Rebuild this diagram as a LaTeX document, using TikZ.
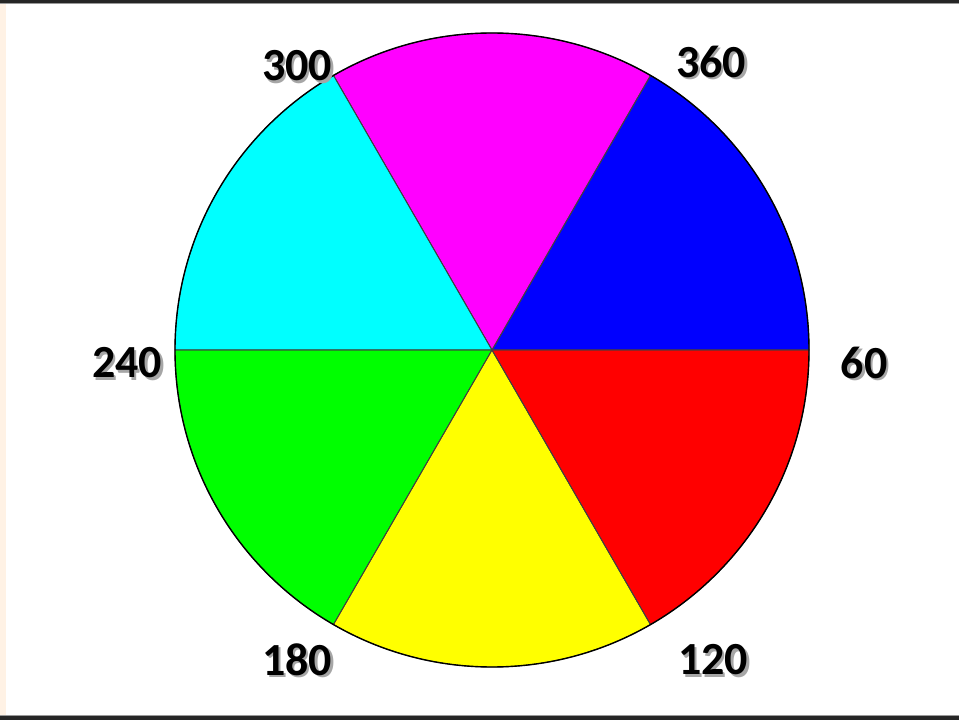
\documentclass[tikz,border=0pt]{standalone}
\usepackage{fontspec}
\setmainfont{Carlito}
\newcommand{\shadowtext}[1]{\makebox[0pt][l]{\hspace{2.5pt}\raisebox{-2.5pt}{\textcolor{black!35}{#1}}}#1}
\begin{document}
\begin{tikzpicture}[x=1pt,y=1pt,
  lab/.style={font=\bfseries\fontsize{46}{46}\selectfont, text=black, inner sep=0pt},
  sector/.style={draw=black!75, line width=0.8pt, line join=round}]
\useasboundingbox (0,0) rectangle (959,721);
\fill[white] (0,0) rectangle (959,721);
\fill[orange!10] (0,3) rectangle (6,718);
% top and bottom bars
\fill[black!85] (0,718) rectangle (959,721);
\fill[black!40] (0,716.5) rectangle (959,718);
\fill[black!85] (0,1) rectangle (959,5);
\fill[black!40] (0,5) rectangle (959,6.5);
\coordinate (c) at (492,371);
\def\R{317}
\fill[sector, fill={rgb,255:red,0;green,0;blue,255}] (c) -- ++(0:\R) arc (0:60:\R) -- cycle;
\fill[sector, fill={rgb,255:red,255;green,0;blue,255}] (c) -- ++(60:\R) arc (60:120:\R) -- cycle;
\fill[sector, fill={rgb,255:red,0;green,255;blue,255}] (c) -- ++(120:\R) arc (120:180:\R) -- cycle;
\fill[sector, fill={rgb,255:red,0;green,255;blue,0}] (c) -- ++(180:\R) arc (180:240:\R) -- cycle;
\fill[sector, fill={rgb,255:red,255;green,255;blue,0}] (c) -- ++(240:\R) arc (240:300:\R) -- cycle;
\fill[sector, fill={rgb,255:red,255;green,0;blue,0}] (c) -- ++(300:\R) arc (300:360:\R) -- cycle;
\draw[sector] (c) -- ++(0:\R) (c) -- ++(60:\R) (c) -- ++(120:\R) (c) -- ++(180:\R) (c) -- ++(240:\R) (c) -- ++(300:\R);
\draw[black, line width=1.4pt] (c) circle (\R);
% labels with shadow
\foreach \t/\x/\y/\n in {300/297/654/l300, 360/711/658/l360, 240/127/357/l240, 60/864/357/l60, 180/297/60/l180, 120/713/60/l120}{
  \node[lab] (\n) at (\x,\y) {\shadowtext{\t}};
}
\end{tikzpicture}
\end{document}
